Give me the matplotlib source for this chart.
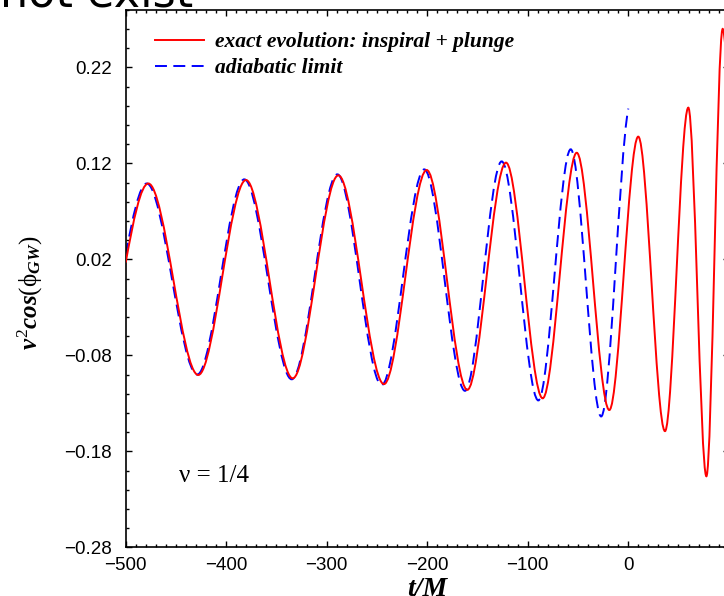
import numpy as np
import matplotlib
matplotlib.use('Agg')
import matplotlib.pyplot as plt
from matplotlib.path import Path
from matplotlib.patches import PathPatch
from matplotlib.lines import Line2D
from matplotlib.ticker import MultipleLocator, FixedLocator, FuncFormatter

# ---- data: successive extrema of each waveform (t/M, v^2 cos(phi_GW)) ----
exact_t = [-500, -477.5, -427.8, -380.3, -333.8, -288.4, -243.0, -200.5, -160.1,
           -121.6, -85.1, -51.2, -18.8, 10.0, 36.6, 59.8, 77.8, 94.0, 100.0]
exact_v = [0.0166, 0.099, -0.1005, 0.1026, -0.104, 0.1075, -0.110, 0.113, -0.116,
           0.1207, -0.1248, 0.131, -0.137, 0.1478, -0.159, 0.178, -0.206, 0.260, 0.200]
adiab_t = [-500, -479.1, -428.8, -382.0, -334.8, -289.4, -245.3, -202.9, -162.4,
           -125.9, -89.4, -57.2, -26.9, 0.1]
adiab_v = [0.025, 0.099, -0.100, 0.1033, -0.105, 0.1085, -0.111, 0.1137, -0.117,
           0.122, -0.127, 0.1346, -0.1437, 0.177]

x_ticks = [-500, -400, -300, -200, -100, 0]
y_ticks = [-0.28, -0.18, -0.08, 0.02, 0.12, 0.22]
labels = ["exact evolution: inspiral + plunge", "adiabatic limit"]

plt.rcParams['mathtext.fontset'] = 'custom'
plt.rcParams['mathtext.rm'] = 'Liberation Serif'
plt.rcParams['mathtext.it'] = 'Liberation Serif:italic:bold'
plt.rcParams['mathtext.bf'] = 'Liberation Serif:bold'


def wave_path(t, v, end_slope=0.0):
    """Smooth path through extrema (horizontal tangents at extrema)."""
    verts = [(t[0], v[0])]
    codes = [Path.MOVETO]
    n = len(t)
    for i in range(n - 1):
        t0, v0, t1, v1 = t[i], v[i], t[i + 1], v[i + 1]
        dt = t1 - t0
        c1y = v0
        c2y = v1
        if i == 0:
            c1y = v0 + (np.pi / 6) * (v1 - v0)
        if i == n - 2:
            c2y = v1 - end_slope * (v1 - v0)
        verts += [(t0 + dt / 3, c1y), (t1 - dt / 3, c2y), (t1, v1)]
        codes += [Path.CURVE4] * 3
    return Path(verts, codes)


fig = plt.figure(figsize=(7.24, 5.96), dpi=100)
ax = fig.add_axes([0.1736, 0.0817, 0.8329, 0.9020])

red_lw = 1.4
blue_lw = 1.4
dash = (8.6, 4.6)

ax.add_patch(PathPatch(wave_path(exact_t, exact_v, 0.3), fill=False,
                       edgecolor='#ff0000', lw=red_lw, zorder=3))
ax.add_patch(PathPatch(wave_path(adiab_t, adiab_v, 0.15), fill=False,
                       edgecolor='#0000ff', lw=blue_lw,
                       linestyle=(0, (dash[0] / blue_lw, dash[1] / blue_lw)), zorder=2))

ax.set_xlim(-500, 100)
ax.set_ylim(-0.28, 0.28)

ax.xaxis.set_major_locator(FixedLocator(x_ticks))
ax.xaxis.set_minor_locator(MultipleLocator(10))
ax.yaxis.set_major_locator(FixedLocator(y_ticks))
ax.yaxis.set_minor_locator(MultipleLocator(0.02))
ax.xaxis.set_major_formatter(FuncFormatter(lambda x, p: f"{x:.0f}".replace('-', '\u2212')))
ax.yaxis.set_major_formatter(FuncFormatter(lambda y, p: f"{y:.2f}".replace('-', '\u2212')))

ax.tick_params(which='both', direction='in', top=True, right=True, width=1.0,
               labelsize=13.5, colors='black')
ax.tick_params(which='major', length=4.5)
ax.tick_params(which='minor', length=2.5)
ax.tick_params(axis='y', pad=10)
ax.tick_params(axis='x', pad=7)
for lab in ax.get_xticklabels() + ax.get_yticklabels():
    lab.set_family('Liberation Sans')
for s in ax.spines.values():
    s.set_linewidth(1.2)

handles = [Line2D([], [], color='#ff0000', lw=red_lw),
           Line2D([], [], color='#0000ff', lw=blue_lw, linestyle=(0, (dash[0] / blue_lw, dash[1] / blue_lw)))]
ax.legend(handles, labels, loc='upper left', bbox_to_anchor=(0.0486, 0.9586),
          frameon=False, borderpad=0, borderaxespad=0, handlelength=2.27,
          handletextpad=0.52, labelspacing=0.28,
          prop={'family': 'Liberation Serif', 'style': 'italic', 'weight': 'bold', 'size': 15.5})

ax.text(-447, -0.2123, "\u03bd = 1/4", family='Liberation Serif', fontsize=18,
        ha='left', va='baseline')

ax.set_xlabel("t/M", family='Liberation Serif', style='italic', weight='bold',
              fontsize=20, labelpad=2)
fig.text(30 / 724, 1 - 293 / 596, r"$\nu^{2}cos(\mathrm{\phi}_{GW})$", rotation=90,
         ha='center', va='center', fontsize=18)

fig.text(193 / 724, 1 - 6.7 / 596, "not exist", fontsize=32, family='DejaVu Sans',
         ha='right', va='baseline')

fig.savefig('out.png', dpi=100)
